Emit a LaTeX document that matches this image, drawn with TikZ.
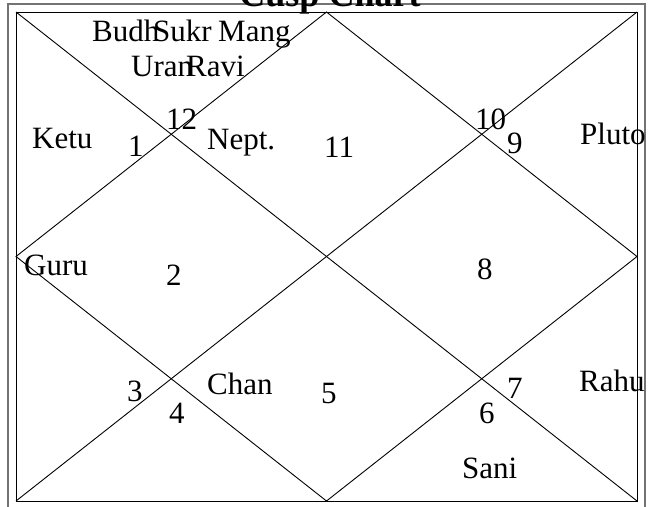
\documentclass[tikz,border=0pt]{standalone}
\usepackage{fontspec}
\setmainfont{Liberation Serif}
\usetikzlibrary{positioning}

\begin{document}
\begin{tikzpicture}[
        x=1pt, y=-1pt,
        font=\fontsize{31}{35}\selectfont,
        % Define styles for the chart
        frame/.style={draw=black!55, line width=1.5pt},
        chart/.style={draw=black, line width=0.9pt},
        cusp/.style={anchor=base west, inner sep=0pt},
        planet/.style={anchor=base west, inner sep=0pt},
        heading/.style={anchor=base, inner sep=0pt, font=\fontsize{36}{40}\selectfont\bfseries}
    ]
        \useasboundingbox (0,0) rectangle (663,506);

        % --- Corners ---
        \coordinate (nw) at (16,12);
        \coordinate (ne) at (637,12);
        \coordinate (se) at (637,501);
        \coordinate (sw) at (16,501);
        \coordinate (n) at (326.5,12);
        \coordinate (e) at (637,256.5);
        \coordinate (s) at (326.5,501);
        \coordinate (w) at (16,256.5);

        % --- Frame ---
        \draw[frame] (8,4) rectangle (645,515);
        \node[heading] (title) at (330,6) {Cusp Chart};

        % --- Chart lines ---
        \draw[chart] (nw) rectangle (se);
        \draw[chart] (nw) -- (se);
        \draw[chart] (ne) -- (sw);
        \draw[chart] (n) -- (e) -- (s) -- (w) -- cycle;

        % --- Cusp numbers ---
        \node[cusp] (h1) at (128,156) {1};
        \node[cusp] (h2) at (166,285) {2};
        \node[cusp] (h3) at (127,401) {3};
        \node[cusp] (h4) at (169,423) {4};
        \node[cusp] (h5) at (321,403) {5};
        \node[cusp] (h6) at (479,423) {6};
        \node[cusp] (h7) at (507,398) {7};
        \node[cusp] (h8) at (477,279) {8};
        \node[cusp] (h9) at (507,153) {9};
        \node[cusp] (h10) at (475,129) {10};
        \node[cusp] (h11) at (324,157) {11};
        \node[cusp] (h12) at (166,129) {12};

        % --- Planets ---
        \node[planet] (budh) at (92,41) {Budh};
        \node[planet] (sukr) at (153,41) {Sukr};
        \node[planet] (mang) at (218,41) {Mang};
        \node[planet] (uran) at (131,76) {Uran};
        \node[planet] (ravi) at (186,76) {Ravi};
        \node[planet] (ketu) at (32,148) {Ketu};
        \node[planet] (nept) at (207,149) {Nept.};
        \node[planet] (pluto) at (580,144) {Pluto};
        \node[planet] (guru) at (24,275) {Guru};
        \node[planet] (chan) at (207,394) {Chan};
        \node[planet] (rahu) at (579,391) {Rahu};
        \node[planet] (sani) at (462,478) {Sani};

    \end{tikzpicture}
\end{document}
